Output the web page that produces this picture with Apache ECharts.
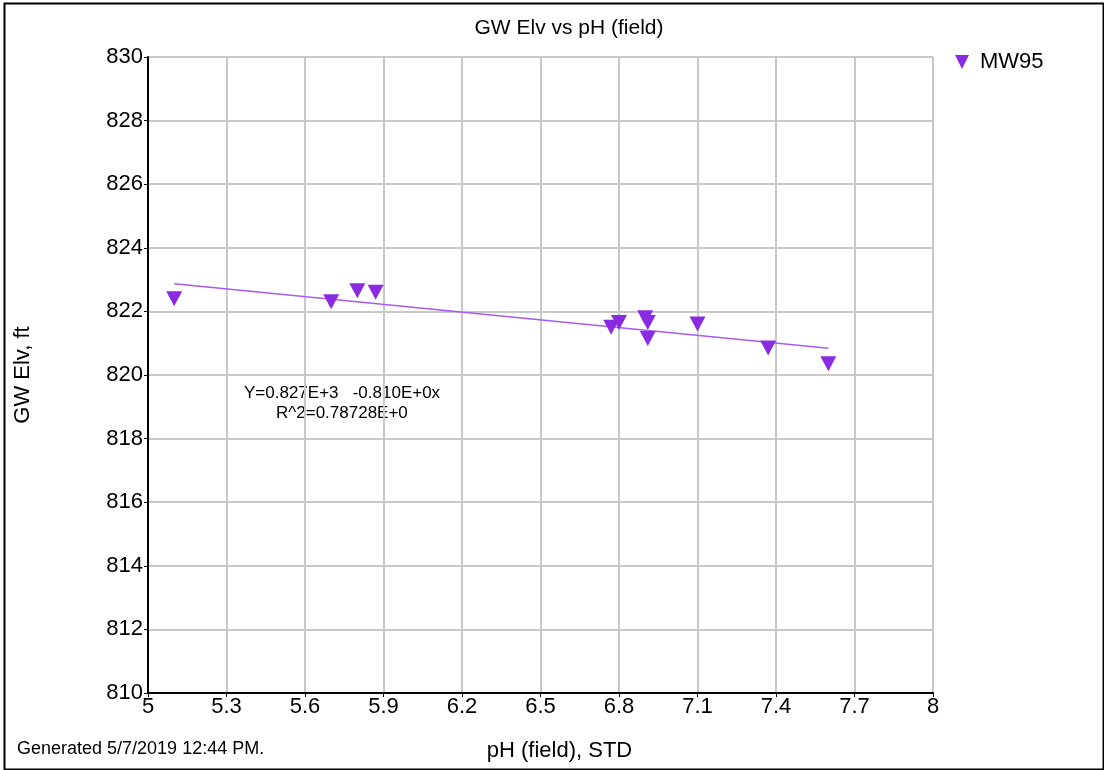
<!DOCTYPE html>
<html><head><meta charset="utf-8">
<script src="https://cdn.jsdelivr.net/npm/echarts@6/dist/echarts.min.js"></script>
<style>html,body{margin:0;padding:0;background:#fff}#c{width:1104px;height:770px}</style>
</head><body><div id="c"></div>
<script>
const seriesName = 'MW95';
const phValues = [5.1, 5.7, 5.8, 5.87, 6.77, 6.8, 6.9, 6.91, 6.91, 7.1, 7.37, 7.6];
const gwElv = [822.4, 822.3, 822.65, 822.6, 821.5, 821.65, 821.8, 821.65, 821.15, 821.6, 820.85, 820.35];
const trendCoef = [827, -0.81]; // intercept, slope as printed on chart
const xTicks = [5, 5.3, 5.6, 5.9, 6.2, 6.5, 6.8, 7.1, 7.4, 7.7, 8];
const yTicks = [810, 812, 814, 816, 818, 820, 822, 824, 826, 828, 830];

const xMin = Math.min(...phValues), xMax = Math.max(...phValues);
const trend = [[xMin, trendCoef[0] + trendCoef[1] * xMin], [xMax, trendCoef[0] + trendCoef[1] * xMax]];
const font = 'Liberation Sans, Arial, sans-serif';
const purple = '#8a2be2';
const downTri = 'path://M0,0 L10,0 L5,10 Z';

const chart = echarts.init(document.getElementById('c'), null, {renderer: 'canvas'});
chart.setOption({
  animation: false,
  backgroundColor: '#fff',
  title: {text: 'GW Elv vs pH (field)', left: 564, top: 13, textAlign: 'center',
    textStyle: {fontFamily: font, fontWeight: 'normal', fontSize: 21, color: '#000'}},
  legend: {show: true, left: 950, top: 46, itemWidth: 14, itemHeight: 14, itemGap: 6,
    data: [{name: seriesName, icon: downTri, itemStyle: {color: purple}}],
    textStyle: {fontFamily: font, fontSize: 22, color: '#000', padding: [0, 0, 0, 6]}},
  grid: {left: 148, right: 171, top: 57, bottom: 77, containLabel: false},
  xAxis: {type: 'value', min: xTicks[0], max: xTicks[xTicks.length - 1], interval: 0.3,
    name: 'pH (field), STD', nameLocation: 'middle', nameGap: 47,
    nameTextStyle: {fontFamily: font, fontSize: 22, color: '#000', padding: [0, 0, 0, 38]},
    axisLine: {show: true, onZero: false, lineStyle: {color: '#000', width: 2}},
    axisTick: {show: true, length: 4, inside: false, lineStyle: {color: '#000'}},
    axisLabel: {fontFamily: font, fontSize: 22, color: '#000', margin: 3,
      formatter: v => { const r = Math.round(v * 10) / 10; return xTicks.includes(r) ? String(r) : ''; }},
    splitLine: {show: true, lineStyle: {color: '#c8c8c8', width: 2}}},
  yAxis: {type: 'value', min: yTicks[0], max: yTicks[yTicks.length - 1], interval: 2,
    name: 'GW Elv, ft', nameLocation: 'middle', nameGap: 114, nameRotate: 90,
    nameTextStyle: {fontFamily: font, fontSize: 22, color: '#000'},
    axisLine: {show: true, onZero: false, lineStyle: {color: '#000', width: 2}},
    axisTick: {show: true, length: 4, lineStyle: {color: '#000'}},
    axisLabel: {fontFamily: font, fontSize: 22, color: '#000', margin: 5},
    splitLine: {show: true, lineStyle: {color: '#c8c8c8', width: 2}}},
  series: [
    {name: seriesName, type: 'scatter', symbol: 'triangle', symbolRotate: 180,
      symbolSize: [16, 15], itemStyle: {color: purple, opacity: 1},
      data: phValues.map((x, i) => [x, gwElv[i]]), z: 3},
    {name: 'trend', type: 'line', data: trend, symbol: 'none',
      lineStyle: {color: '#a55cf0', width: 1.5}, z: 2, silent: true}
  ],
  graphic: [
    {type: 'rect', left: 2, top: 1, shape: {width: 1099, height: 766},
      style: {fill: 'none', stroke: '#000', lineWidth: 2}, silent: true},
    {type: 'text', left: 244, top: 385, style: {text: 'Y=0.827E+3   -0.810E+0x', font: '17px ' + font, fill: '#000'}},
    {type: 'text', left: 276, top: 405, style: {text: 'R^2=0.78728E+0', font: '17px ' + font, fill: '#000'}},
    {type: 'text', left: 17, top: 740, style: {text: 'Generated 5/7/2019 12:44 PM.', font: '18px ' + font, fill: '#000'}}
  ]
});
</script></body></html>
